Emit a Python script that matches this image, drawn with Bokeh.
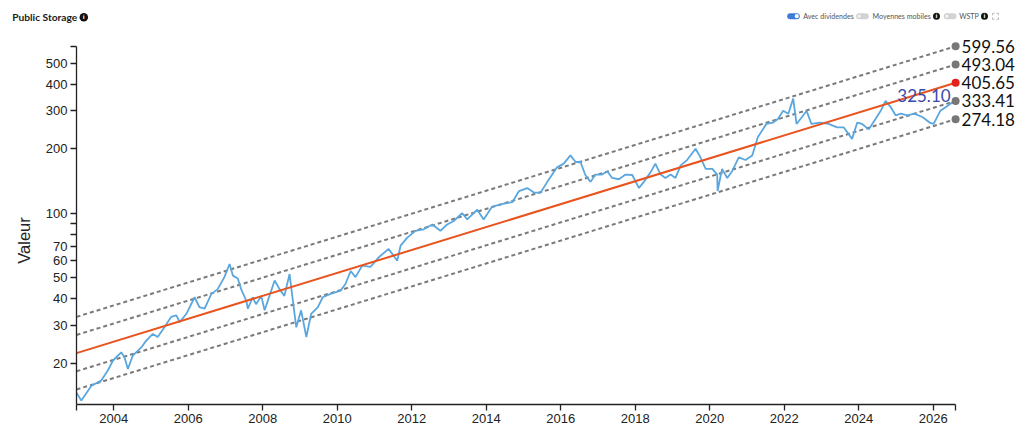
import math
from bokeh.plotting import figure
from bokeh.layouts import column, row
from bokeh.models import Range1d, FixedTicker
from bokeh.core.properties import value
from bokeh.embed import file_html
from bokeh.resources import INLINE

# ---------------- data ----------------
dates = [
    2003.00, 2003.13, 2003.40, 2003.66, 2003.84, 2003.98, 2004.20, 2004.29, 2004.38, 2004.51,
    2004.74, 2004.87, 2005.05, 2005.18, 2005.36, 2005.54, 2005.68, 2005.77, 2005.95, 2006.17,
    2006.30, 2006.44, 2006.62, 2006.79, 2006.97, 2007.11, 2007.20, 2007.33, 2007.42, 2007.56,
    2007.60, 2007.73, 2007.82, 2007.96, 2008.05, 2008.18, 2008.32, 2008.45, 2008.58, 2008.72,
    2008.81, 2008.90, 2009.03, 2009.17, 2009.30, 2009.48, 2009.61, 2009.82, 2010.09, 2010.22,
    2010.36, 2010.49, 2010.67, 2010.89, 2011.12, 2011.38, 2011.61, 2011.70, 2011.88, 2012.10,
    2012.32, 2012.55, 2012.77, 2012.95, 2013.13, 2013.35, 2013.49, 2013.76, 2013.93, 2014.16,
    2014.47, 2014.70, 2014.88, 2015.10, 2015.28, 2015.46, 2015.64, 2015.90, 2016.08, 2016.26,
    2016.40, 2016.53, 2016.66, 2016.80, 2016.93, 2017.11, 2017.25, 2017.38, 2017.56, 2017.74,
    2017.92, 2018.10, 2018.23, 2018.41, 2018.54, 2018.68, 2018.81, 2018.95, 2019.08, 2019.22,
    2019.39, 2019.62, 2019.75, 2019.89, 2020.07, 2020.20, 2020.21, 2020.33, 2020.47, 2020.60,
    2020.78, 2020.96, 2021.14, 2021.29, 2021.52, 2021.70, 2021.83, 2021.97, 2022.11, 2022.24,
    2022.33, 2022.47, 2022.60, 2022.73, 2022.96, 2023.19, 2023.42, 2023.60, 2023.82, 2023.96,
    2024.09, 2024.27, 2024.45, 2024.59, 2024.72, 2024.86, 2024.99, 2025.13, 2025.31, 2025.49,
    2025.72, 2025.90, 2026.01, 2026.19, 2026.33, 2026.51, 2026.60,
]
prices = [
    14.6, 13.4, 15.7, 16.6, 18.5, 20.6, 22.5, 21.3, 18.8, 21.7,
    23.7, 25.5, 27.4, 26.5, 29.4, 32.9, 33.4, 31.1, 34.0, 40.6,
    36.5, 35.9, 42.1, 44.3, 50.4, 58.0, 51.2, 49.7, 44.3, 39.0,
    35.9, 40.6, 37.7, 41.2, 35.3, 41.2, 48.6, 44.3, 41.2, 52.1,
    39.0, 29.4, 35.3, 26.5, 34.0, 36.5, 40.6, 42.1, 43.6, 46.8,
    53.8, 50.4, 57.0, 56.3, 62.5, 68.2, 60.1, 70.6, 77.0, 82.8,
    84.2, 88.6, 82.8, 88.6, 92.0, 100.2, 93.6, 103.9, 93.6, 107.4,
    110.8, 112.6, 126.9, 131.0, 124.8, 124.8, 140.0, 163.6, 170.3, 186.0,
    173.3, 173.3, 150.7, 140.0, 151.4, 151.4, 157.0, 146.0, 144.0, 151.4,
    150.7, 131.0, 140.0, 155.0, 170.3, 151.4, 146.0, 151.4, 146.0, 167.0,
    176.9, 199.6, 182.0, 161.0, 161.0, 151.4, 127.0, 161.0, 146.0, 157.0,
    182.0, 177.0, 186.0, 226.0, 260.6, 264.5, 275.0, 300.0, 291.0, 342.0,
    260.6, 280.0, 300.0, 260.6, 264.5, 260.6, 251.0, 251.0, 222.0, 264.5,
    260.6, 246.0, 275.0, 300.0, 334.0, 312.0, 286.0, 291.0, 286.0, 291.0,
    280.0, 264.5, 260.6, 300.0, 312.0, 328.0, 325.10,
]
last_label = "325.10"

band_start_date = 2003.0
band_end_date = 2026.6
band_start = [32.9, 27.1, 22.3, 18.35, 15.1]
band_end = [599.56, 493.04, 405.65, 333.41, 274.18]
band_labels = ["599.56", "493.04", "405.65", "333.41", "274.18"]
center_index = 2

x_ticks = [2004, 2006, 2008, 2010, 2012, 2014, 2016, 2018, 2020, 2022, 2024, 2026]
y_ticks = [20, 30, 40, 50, 60, 70, 80, 90, 100, 200, 300, 400, 500]
y_hidden = [80, 90]
y_min, y_axis_top = 12.85, 600.0

title_text = "Public Storage"
toggle_texts = ["Avec dividendes", "Moyennes mobiles", "WSTP"]
y_title = "Valeur"

# ---------------- layout ----------------
W = 1020
HEADER_H = 28
MAIN_H = 397
SIDE_W = 40          # strip holding the y-axis title
LEFT = 76            # page x of the plot frame's left edge

BLUE = "#5aa7e0"
ORANGE = "#e8531e"
GRAY = "#7a7a7a"

# ---------------- header (title + toggles), pixel coordinates ----------------
h = figure(width=W, height=HEADER_H, x_range=Range1d(0, W), y_range=Range1d(HEADER_H, 0),
           x_axis_type=None, y_axis_type=None, output_backend="svg",
           toolbar_location=None, min_border=0)
h.outline_line_color = None
h.title.text = ""
h.frame_align = False

h.text(x=[11.7], y=[16.8], text=[title_text], text_font=value("Lato"), text_font_style="bold",
       text_font_size="10.2px", text_baseline="middle", text_color="#1a1a1a")
icon_x = [83.3, 936.0, 984.0]
icon_y = [16.7, 15.7, 15.7]
icon_s = [8.5, 7, 7]
h.scatter(x=icon_x, y=icon_y, size=icon_s, fill_color="#111111", line_color=None)
h.text(x=icon_x, y=icon_y, text=["i", "i", "i"], text_font=value("DejaVu Sans"),
       text_font_style="bold", text_font_size="5.5px", text_align="center",
       text_baseline="middle", text_color="white")
h.segment(x0=[789.7], y0=[15.7], x1=[796.3], y1=[15.7], line_width=6, line_cap="round",
          line_color="#3d7bd9")
h.segment(x0=[858.7, 946.3], y0=[15.7, 15.7], x1=[865.3, 953.0], y1=[15.7, 15.7], line_width=6,
          line_cap="round", line_color="#d3d3d3")
h.scatter(x=[796.3], y=[15.7], size=4.2, fill_color="white", line_color=None)
h.scatter(x=[858.7, 946.3], y=[15.7, 15.7], size=4.6, fill_color="#f2f2f2",
          line_color="#bdbdbd", line_width=0.6)
h.text(x=[802.7, 872.0, 958.7], y=[15.9, 15.9, 15.9], text=toggle_texts,
       text_font=value("Lato"), text_font_size="7.1px", text_baseline="middle",
       text_color="#555555")
ex0, ex1, ey0, ey1, c = 992.0, 998.0, 12.8, 18.8, 2.0
h.multi_line(xs=[[ex0, ex0, ex0 + c], [ex1 - c, ex1, ex1], [ex0, ex0, ex0 + c], [ex1 - c, ex1, ex1]],
             ys=[[ey0 + c, ey0, ey0], [ey0, ey0, ey0 + c], [ey1 - c, ey1, ey1], [ey1, ey1, ey1 - c]],
             line_color="#bbbbbb", line_width=1)

# ---------------- side strip with the y-axis title ----------------
s = figure(width=SIDE_W, height=MAIN_H, x_range=Range1d(0, SIDE_W), y_range=Range1d(0, MAIN_H),
           x_axis_type=None, y_axis_type=None, output_backend="svg",
           toolbar_location=None, min_border=0)
s.outline_line_color = None
s.title.text = ""
s.frame_align = False
s.text(x=[23], y=[MAIN_H - (240 - HEADER_H)], text=[y_title], angle=math.pi / 2,
       text_align="center", text_baseline="middle", text_font=value("Liberation Sans"),
       text_font_size="16.5px", text_color="#222222")

# ---------------- main chart ----------------
MW = W - SIDE_W
px_per_year = 37.25
x_end = band_start_date + (W - LEFT) / px_per_year
p = figure(width=MW, height=MAIN_H, x_range=Range1d(band_start_date, x_end),
           y_range=Range1d(y_min, 725.6), y_axis_type="log", output_backend="svg",
           toolbar_location=None, min_border_left=LEFT - SIDE_W, min_border_right=0,
           min_border_top=0, min_border_bottom=0)
p.outline_line_color = None
p.xgrid.visible = False
p.ygrid.visible = False
p.title.text = ""
p.frame_align = False

for i in range(len(band_end)):
    if i == center_index:
        continue
    p.line([band_start_date, band_end_date], [band_start[i], band_end[i]],
           line_color=GRAY, line_width=2, line_dash="4 3")

p.line(dates, prices, line_color=BLUE, line_width=1.8)

p.line([band_start_date, band_end_date], [band_start[center_index], band_end[center_index]],
       line_color=ORANGE, line_width=2)

dot_colors = ["#e3201b" if i == center_index else "#777777" for i in range(len(band_end))]
p.scatter(x=[band_end_date] * len(band_end), y=band_end, size=8, fill_color=dot_colors,
          line_color=None)
p.text(x=[band_end_date] * len(band_end), y=band_end, text=band_labels, x_offset=6,
       text_baseline="middle", text_font=value("Lato"), text_font_size="17px",
       text_color="#111111")
p.text(x=[dates[-1]], y=[prices[-1]], text=[last_label], x_offset=-5, y_offset=-8,
       text_align="right", text_baseline="alphabetic", text_font=value("Lato"),
       text_font_size="17px", text_color="#3a4aab")

p.xaxis.ticker = FixedTicker(ticks=[band_start_date] + [float(t) for t in x_ticks] + [band_end_date])
xo = {float(t): str(t) for t in x_ticks}
xo[band_start_date] = ""
xo[band_end_date] = ""
p.xaxis.major_label_overrides = xo
p.xaxis.bounds = (band_start_date, band_end_date)

p.yaxis.ticker = FixedTicker(ticks=[float(t) for t in y_ticks] + [y_axis_top])
yo = {float(t): ("" if t in y_hidden else str(t)) for t in y_ticks}
yo[y_axis_top] = ""
p.yaxis.major_label_overrides = yo
p.yaxis.bounds = (y_min, y_axis_top)

for ax in (p.xaxis[0], p.yaxis[0]):
    ax.axis_line_color = "#222222"
    ax.axis_line_width = 1.3
    ax.major_tick_line_color = "#222222"
    ax.major_tick_line_width = 1.3
    ax.major_tick_in = 0
    ax.major_tick_out = 6
    ax.minor_tick_line_color = None
    ax.major_label_text_font = "Liberation Sans"
    ax.major_label_text_font_size = "13px"
    ax.major_label_text_color = "#222222"
    ax.major_label_standoff = 3

layout = column(h, row(s, p, spacing=0), spacing=0)
open("out.html", "w").write(file_html(layout, INLINE))
